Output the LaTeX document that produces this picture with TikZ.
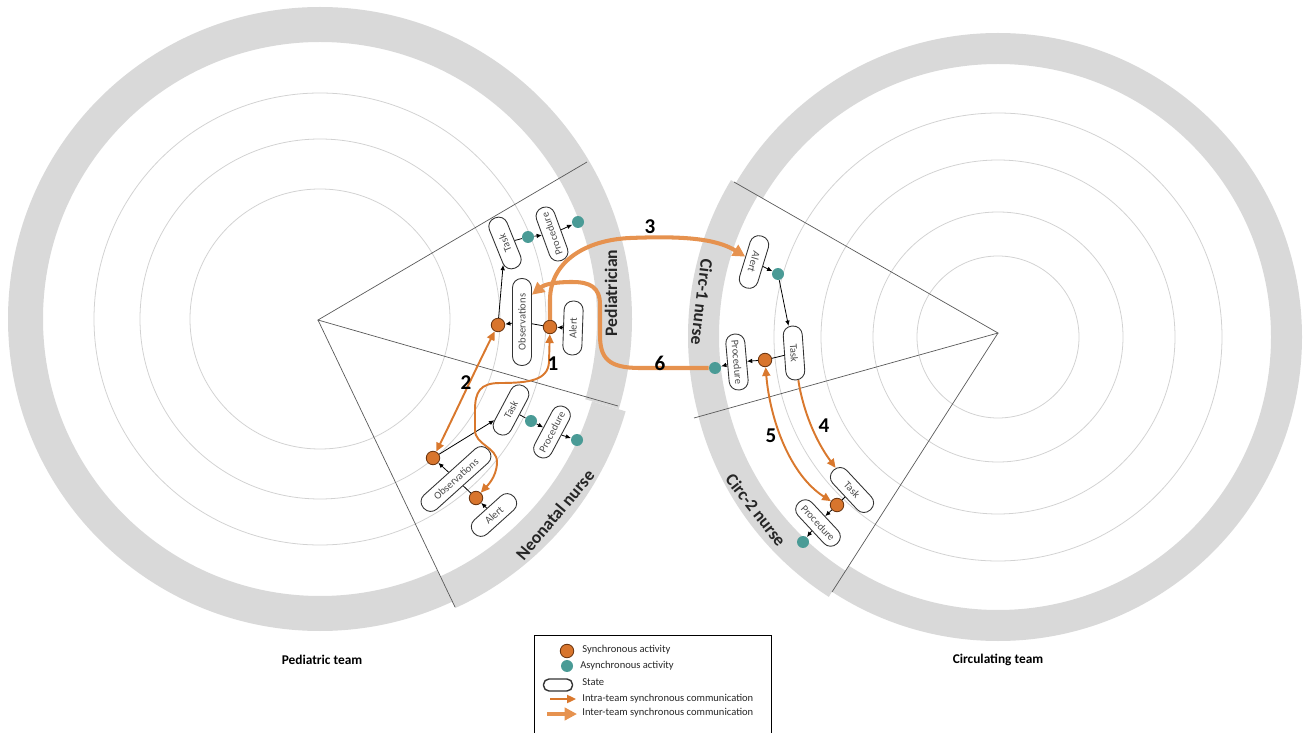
\documentclass[tikz,border=0pt]{standalone}
\usepackage{fontspec}
\setmainfont{Carlito}
\usetikzlibrary{arrows.meta}

\definecolor{ringgray}{HTML}{D9D9D9}
\definecolor{orbit}{HTML}{D2D2D2}
\definecolor{syncfill}{HTML}{D8752D}
\definecolor{syncline}{HTML}{6B3510}
\definecolor{asyncfill}{HTML}{4A9B96}
\definecolor{intracol}{HTML}{D9782D}
\definecolor{intercol}{HTML}{E6924F}

\begin{document}
\begin{tikzpicture}[
    x=0.02cm, y=-0.02cm, >={Triangle[length=5pt,width=4.5pt]},
    state/.style={draw=black!80, line width=0.5pt, fill=white, rounded corners=0.18cm,
        minimum height=0.38cm, minimum width=1.08cm, inner xsep=0.12cm, inner ysep=0pt,
        font=\fontsize{6}{7}\selectfont, text=black!70},
    sync/.style={circle, draw=syncline, fill=syncfill, line width=0.5pt,
        minimum size=0.27cm, inner sep=0pt},
    async/.style={circle, fill=asyncfill, minimum size=0.24cm, inner sep=0pt},
    flow/.style={-{Latex[length=3pt,width=2.6pt]}, line width=0.45pt},
    intra/.style={draw=intracol, line width=1.1pt},
    inter/.style={draw=intercol, line width=2.3pt, >={Triangle[length=7pt,width=7pt]}},
    wedge/.style={draw=black!65, line width=0.4pt},
    role/.style={font=\fontsize{10}{12}\selectfont\bfseries, text=black!85},
    team/.style={font=\fontsize{7.6}{9}\selectfont\bfseries},
    num/.style={font=\fontsize{12}{14}\selectfont\bfseries},
    legtext/.style={anchor=west, inner sep=0pt, font=\fontsize{6}{7}\selectfont, text=black!85},
]
\useasboundingbox (0,0) rectangle (1306,733);

% the two team circles
\fill[ringgray, even odd rule] (320,319) circle (312) circle (277);
\foreach \r in {226,180,130}
    \draw[orbit, line width=0.45pt] (320,319) circle (\r);
\fill[ringgray, even odd rule] (998,337) circle (304) circle (273);
\foreach \r in {224,177,125,81}
    \draw[orbit, line width=0.45pt] (998,337) circle (\r);

\coordinate (vL) at (318,320);
\coordinate (vR) at (998,333);

% role sectors pulled out a little
\begin{scope}
    \clip (vL) -- (702,434) -- (660,612) -- (490,681) -- cycle;
    \fill[white, even odd rule] (320,319) circle (313) circle (276);
    \fill[ringgray, even odd rule] (326,324) circle (312) circle (277);
\end{scope}
\begin{scope}
    \clip (vR) -- (633,124) -- (552,277) -- (594,446) -- cycle;
    \fill[white, even odd rule] (998,337) circle (305) circle (272);
    \fill[ringgray, even odd rule] (992,336) circle (304) circle (273);
\end{scope}
\begin{scope}
    \clip (vR) -- (594,446) -- (636,601) -- (771,687) -- cycle;
    \fill[white, even odd rule] (998,337) circle (305) circle (272);
    \fill[ringgray, even odd rule] (993,341) circle (304) circle (273);
\end{scope}

\draw[wedge] (587,162) -- (vL) -- (618,406);
\draw[wedge] (vL) -- (455,607);
\draw[wedge] (734,182) -- (vR) -- (694,418);
\draw[wedge] (vR) -- (832,592);

\node[role, rotate=90] (lPed) at (611,293) {Pediatrician};
\node[role, rotate=50] (lNeo) at (555,515) {Neonatal nurse};
\node[role, rotate=-97] (lCircA) at (702,302) {Circ-1 nurse};
\node[role, rotate=-52] (lCircB) at (756,510) {Circ-2 nurse};
\node[team] (tPed) at (322,660) {Pediatric team};
\node[team] (tCirc) at (998,660) {Circulating team};

% pediatrician
\node[state, rotate=112] (pTask) at (505,243) {Task};
\node[state, rotate=110] (pProc) at (552,234) {Procedure};
\node[state, rotate=90, minimum width=1.74cm] (pObs) at (522,322) {Observations};
\node[state, rotate=88] (pAlert) at (573,328) {Alert};
\node[sync] (pSyncA) at (550,327) {};
\node[sync] (pSyncB) at (498,325) {};
\node[async] (pDotA) at (528,237) {};
\node[async] (pDotB) at (578,222) {};

% neonatal nurse
\node[state, rotate=62] (nTask) at (511,410) {Task};
\node[state, rotate=62] (nProc) at (552,432) {Procedure};
\node[state, rotate=42, minimum width=1.74cm] (nObs) at (456,479) {Observations};
\node[state, rotate=42] (nAlert) at (494,515) {Alert};
\node[sync] (nSyncA) at (476,498) {};
\node[sync] (nSyncB) at (433,458) {};
\node[async] (nDotA) at (531,421) {};
\node[async] (nDotB) at (577,440) {};

% circ-1 and circ-2 nurses
\node[state, rotate=-107] (cAlert) at (754,262) {Alert};
\node[state, rotate=-86] (cTask) at (794,353) {Task};
\node[state, rotate=-85] (cProc) at (737,362) {Procedure};
\node[async] (cDotA) at (778,274) {};
\node[sync] (cSync) at (765,360) {};
\node[async] (cDotB) at (715,368) {};
\node[state, rotate=-47] (dTask) at (852,490) {Task};
\node[state, rotate=-47] (dProc) at (818,523) {Procedure};
\node[sync] (dSync) at (837,505) {};
\node[async] (dDot) at (803,542) {};

\draw[flow] (pAlert) -- (pSyncA);
\draw[line width=0.45pt] (pSyncA) -- (pObs);
\draw[flow] (pObs) -- (pSyncB);
\draw[flow] (pSyncB) -- (pTask);
\draw[line width=0.45pt] (pTask) -- (pDotA);
\draw[flow] (pDotA) -- (pProc);
\draw[flow] (pProc) -- (pDotB);

\draw[flow] (nAlert) -- (nSyncA);
\draw[line width=0.45pt] (nSyncA) -- (nObs);
\draw[flow] (nObs) -- (nSyncB);
\draw[flow] (nSyncB) -- (nTask);
\draw[line width=0.45pt] (nTask) -- (nDotA);
\draw[flow] (nDotA) -- (nProc);
\draw[flow] (nProc) -- (nDotB);

\draw[flow] (cAlert) -- (cDotA);
\draw[flow] (cDotA) -- (cTask);
\draw[line width=0.45pt] (cTask) -- (cSync);
\draw[flow] (cSync) -- (cProc);
\draw[flow] (cProc) -- (cDotB);
\draw[line width=0.45pt] (dTask) -- (dSync);
\draw[flow] (dSync) -- (dProc);
\draw[flow] (dProc) -- (dDot);

% synchronous communication
\draw[intra, <->] (pSyncA) -- (549,362) .. controls (548,380) and (530,383) .. (500,383)
    .. controls (480,383) and (475,392) .. (475,410) -- (475,430)
    .. controls (475,445) and (497,447) .. (497,462)
    .. controls (497,478) and (485,488) .. (nSyncA);
\draw[intra, <->] (nSyncB) .. controls (452,420) and (480,360) .. (pSyncB);
\draw[intra, ->] (cTask) .. controls (803,410) and (815,440) .. (dTask);
\draw[intra, <->] (cSync) .. controls (770,420) and (790,475) .. (dSync);
\draw[inter, ->] (pSyncA) -- (550,300) .. controls (550,262) and (585,240) .. (630,238)
    .. controls (680,236) and (715,238) .. (cAlert);
\draw[inter, ->] (cDotB) -- (640,368) .. controls (608,368) and (600,358) .. (600,335)
    -- (600,305) .. controls (600,287) and (590,282) .. (572,282)
    .. controls (556,282) and (545,284) .. (pObs.-20);

\node[num] (n1) at (553,364) {1};
\node[num] (n2) at (466,383) {2};
\node[num] (n3) at (650,227) {3};
\node[num] (n4) at (824,426) {4};
\node[num] (n5) at (771,436) {5};
\node[num] (n6) at (660,363) {6};

% legend
\draw[line width=0.5pt] (534,635) rectangle (771,740);
\node[sync] (kSync) at (567,651) {};
\node[legtext] (kSyncT) at (582,650) {Synchronous activity};
\node[async] (kAsync) at (567,666) {};
\node[legtext] (kAsyncT) at (580,666) {Asynchronous activity};
\node[state, minimum width=0.58cm, minimum height=0.24cm, rounded corners=0.11cm,
    line width=0.8pt] (kState) at (558,685) {};
\node[legtext] (kStateT) at (582,682) {State};
\coordinate (kIntraA) at (550,699);
\coordinate (kIntraB) at (576,699);
\draw[intra, ->] (kIntraA) -- (kIntraB);
\node[legtext] (kIntraT) at (582,699) {Intra-team synchronous communication};
\coordinate (kInterA) at (547,714);
\coordinate (kInterB) at (577,714);
\draw[inter, ->] (kInterA) -- (kInterB);
\node[legtext] (kInterT) at (582,713) {Inter-team synchronous communication};
\end{tikzpicture}
\end{document}
